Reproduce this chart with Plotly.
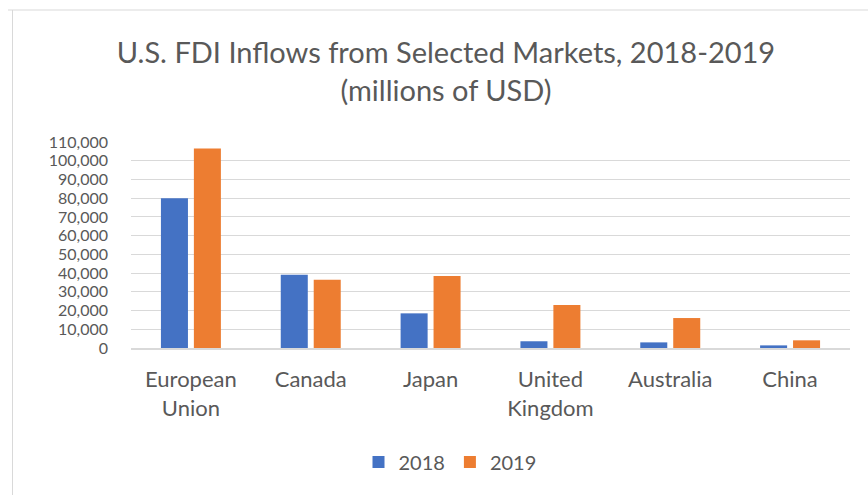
import plotly.graph_objects as go

categories = ["European<br>Union", "Canada", "Japan", "United<br>Kingdom", "Australia", "China"]
values_2018 = [80000, 39100, 18500, 3600, 3000, 1400]
values_2019 = [106500, 36400, 38500, 23000, 16000, 4100]
series_names = ["2018", "2019"]
y_ticks = list(range(0, 110001, 10000))

W, H = 868, 495
L, R, T, B = 131, 18, 142, 147
pw = W - L - R
ph = H - T - B

def px_x(p):
    return (p - L) / pw

def px_y(p):
    return (H - B - p) / ph

fig = go.Figure()
fig.add_trace(go.Bar(x=categories, y=values_2018, name=series_names[0],
                     marker=dict(color="#4472C4", line=dict(width=0))))
fig.add_trace(go.Bar(x=categories, y=values_2019, name=series_names[1],
                     marker=dict(color="#ED7D31", line=dict(width=0))))

font_family = "Lato, 'Open Sans', sans-serif"
fig.update_layout(
    width=W, height=H,
    margin=dict(l=L, r=R, t=T, b=B, pad=0),
    paper_bgcolor="white", plot_bgcolor="white",
    barmode="group", bargap=0.45, bargroupgap=0.18,
    font=dict(family=font_family, color="#595959", size=16),
    title=dict(text="U.S. FDI Inflows from Selected Markets, 2018-2019<br>(millions of USD)",
               x=446 / W, xanchor="center", xref="container",
               y=1 - 63 / H, yanchor="middle", yref="container",
               font=dict(size=29, color="#595959", family=font_family)),
    legend=dict(orientation="h", x=450 / W, xanchor="center", xref="container",
                y=1 - 462 / H, yanchor="middle", yref="container",
                font=dict(size=20, color="#595959"), itemwidth=30,
                traceorder="normal"),
    showlegend=True,
)
fig.update_yaxes(range=[0, 110000], tickvals=y_ticks, tickformat=",",
                 showgrid=True, gridcolor="#D9D9D9", gridwidth=1,
                 zeroline=False, showline=False, ticks="", ticklen=0,
                 ticklabelstandoff=22,
                 tickfont=dict(size=16, color="#595959"))
fig.update_xaxes(showline=True, linecolor="#D9D9D9", linewidth=2,
                 ticks="", ticklabelstandoff=11,
                 tickfont=dict(size=22, color="#595959"))

# chart area border (top and left edges visible in frame)
fig.add_shape(type="line", xref="paper", yref="paper",
              x0=px_x(8), x1=px_x(W + 5), y0=px_y(10), y1=px_y(10),
              line=dict(color="#D9D9D9", width=1))
fig.add_shape(type="line", xref="paper", yref="paper",
              x0=px_x(12.5), x1=px_x(12.5), y0=px_y(10), y1=px_y(H + 5),
              line=dict(color="#D9D9D9", width=1))

fig.write_html("out.html", config={"displayModeBar": False},
               post_script="document.body.style.margin='0';document.body.style.overflow='hidden';")
